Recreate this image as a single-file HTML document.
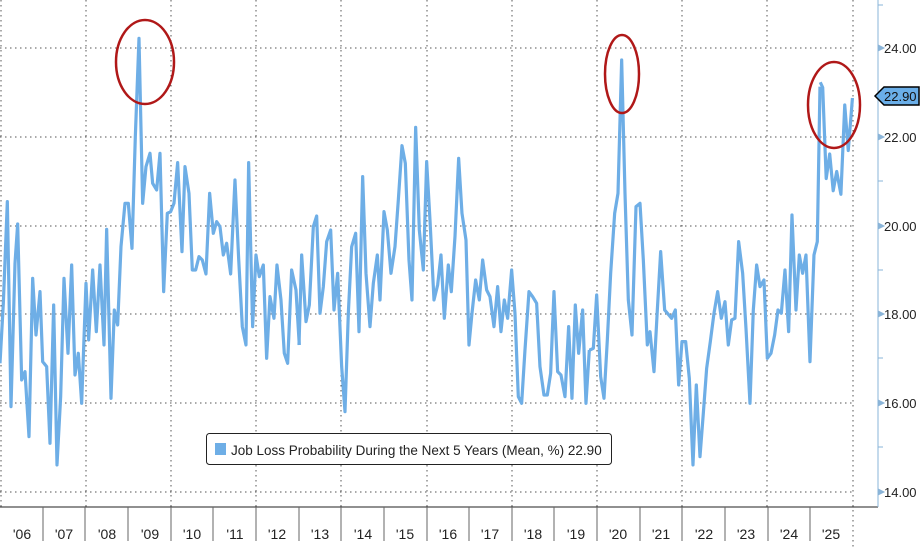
<!DOCTYPE html>
<html><head><meta charset="utf-8"><style>
html,body{margin:0;padding:0;background:#fff;}
svg{display:block;font-family:"Liberation Sans",sans-serif;}
</style></head><body>
<svg width="921" height="548" viewBox="0 0 921 548" xmlns="http://www.w3.org/2000/svg">
<rect width="921" height="548" fill="#fff"/>
<g stroke="#555" stroke-width="1" stroke-dasharray="1.5,3.5" fill="none">
<line x1="0" y1="48" x2="853" y2="48"/>
<line x1="0" y1="137" x2="853" y2="137"/>
<line x1="0" y1="226" x2="853" y2="226"/>
<line x1="0" y1="314" x2="853" y2="314"/>
<line x1="0" y1="403" x2="853" y2="403"/>
<line x1="0" y1="492" x2="853" y2="492"/>
<line x1="1" y1="0" x2="1" y2="507"/>
<line x1="86" y1="0" x2="86" y2="507"/>
<line x1="171" y1="0" x2="171" y2="507"/>
<line x1="256" y1="0" x2="256" y2="507"/>
<line x1="341" y1="0" x2="341" y2="507"/>
<line x1="427" y1="0" x2="427" y2="507"/>
<line x1="512" y1="0" x2="512" y2="507"/>
<line x1="597" y1="0" x2="597" y2="507"/>
<line x1="682" y1="0" x2="682" y2="507"/>
<line x1="767" y1="0" x2="767" y2="507"/>
<line x1="853" y1="0" x2="853" y2="548"/>
</g>
<line x1="0" y1="507" x2="878" y2="507" stroke="#222" stroke-width="1"/>
<line x1="878" y1="0" x2="878" y2="507" stroke="#8ab4d8" stroke-width="1"/>
<g stroke="#666" stroke-width="1">
<line x1="43" y1="507" x2="43" y2="541"/><line x1="85" y1="507" x2="85" y2="541"/><line x1="128" y1="507" x2="128" y2="541"/><line x1="171" y1="507" x2="171" y2="541"/><line x1="213" y1="507" x2="213" y2="541"/><line x1="256" y1="507" x2="256" y2="541"/><line x1="299" y1="507" x2="299" y2="541"/><line x1="341" y1="507" x2="341" y2="541"/><line x1="384" y1="507" x2="384" y2="541"/><line x1="427" y1="507" x2="427" y2="541"/><line x1="469" y1="507" x2="469" y2="541"/><line x1="512" y1="507" x2="512" y2="541"/><line x1="554" y1="507" x2="554" y2="541"/><line x1="597" y1="507" x2="597" y2="541"/><line x1="640" y1="507" x2="640" y2="541"/><line x1="682" y1="507" x2="682" y2="541"/><line x1="725" y1="507" x2="725" y2="541"/><line x1="768" y1="507" x2="768" y2="541"/><line x1="810" y1="507" x2="810" y2="541"/>
</g>
<g font-size="14" fill="#222" text-anchor="middle">
<text x="22" y="539">'06</text><text x="64" y="539">'07</text><text x="107" y="539">'08</text><text x="150" y="539">'09</text><text x="192" y="539">'10</text><text x="235" y="539">'11</text><text x="277" y="539">'12</text><text x="320" y="539">'13</text><text x="363" y="539">'14</text><text x="405" y="539">'15</text><text x="448" y="539">'16</text><text x="490" y="539">'17</text><text x="533" y="539">'18</text><text x="576" y="539">'19</text><text x="618" y="539">'20</text><text x="661" y="539">'21</text><text x="704" y="539">'22</text><text x="746" y="539">'23</text><text x="789" y="539">'24</text><text x="831" y="539">'25</text>
</g>
<g fill="#8ab4d8" stroke="#8ab4d8">
<path d="M878 45 L884 48 L878 51Z"/><path d="M878 134 L884 137 L878 140Z"/><path d="M878 223 L884 226 L878 229Z"/><path d="M878 311 L884 314 L878 317Z"/><path d="M878 400 L884 403 L878 406Z"/><path d="M878 489 L884 492 L878 495Z"/>
<line x1="878" y1="5" x2="883" y2="5"/><line x1="878" y1="181" x2="883" y2="181"/><line x1="878" y1="270" x2="883" y2="270"/><line x1="878" y1="358" x2="883" y2="358"/><line x1="878" y1="447" x2="883" y2="447"/>
</g>
<g font-size="13" fill="#222">
<text x="884" y="53">24.00</text><text x="884" y="142">22.00</text><text x="884" y="231">20.00</text><text x="884" y="319">18.00</text><text x="884" y="408">16.00</text><text x="884" y="497">14.00</text>
</g>
<path d="M875 96 L884 87 L919 87 L919 105 L884 105Z" fill="#6aaee8" stroke="#000" stroke-width="1.5"/>
<text x="884" y="101" font-size="13" fill="#111">22.90</text>
<g fill="none" stroke="#6eaee6" stroke-width="3.2" stroke-linejoin="round">
<polyline vector-effect="non-scaling-stroke" transform="translate(0,20) scale(0.3333)" points="0,1030 10,850 22,545 33,1160 45,730 53,612 65,1080 75,1055 87,1250 98,775 108,945 120,815 128,1025 140,1040 150,1270 161,855 171,1335 182,1130 192,775 204,1000 215,735 225,1065 235,1000 245,1150 258,790 266,960 278,750 289,935 300,735 312,975 320,628 333,1135 343,870 353,915 363,680 375,550 385,550 396,685 406,350 417,55 428,550 438,440 450,400 458,490 470,510 480,400 491,815 502,580 512,575 522,550 533,428 546,695 555,440 567,520 577,750 587,750 597,710 607,720 618,762 629,520 640,640 650,605 660,620 670,705 680,670 692,762 705,480 716,715 727,920 738,975 746,428 758,920 768,705 778,770 790,735 800,1015 810,830 822,895 831,735 843,840 853,1000 863,1030 875,750 888,810 898,975"/>
<polyline vector-effect="non-scaling-stroke" transform="translate(290,100) scale(0.3333)" points="27,735 35,465 48,665 58,615 70,380 80,348 90,640 100,560 110,425 122,390 132,630 143,520 155,800 165,935 175,640 185,440 197,400 207,695 218,230 228,520 240,680 250,550 262,465 270,600 282,335 292,390 303,520 315,440 325,300 336,137 346,190 357,480 366,600 377,82 388,390 400,510 410,185 420,360 432,600 443,555 453,465 463,655 475,495 484,575 495,410 506,175 516,340 528,420 537,735 546,640 557,540 568,600 578,480 590,570 600,590 612,680 623,560 633,695 643,600 653,655 665,510 675,640 685,890 695,910 705,750 717,575 728,590 740,610 750,800 762,885 772,885 782,820 792,575 803,815 813,825 825,890 836,680 846,895 856,615 866,760 878,630 888,910 898,750"/>
<polyline vector-effect="non-scaling-stroke" transform="translate(570,20) scale(0.3333)" points="57,990 60,990 70,985 80,825 92,1070 102,1135 112,960 122,760 134,580 144,520 155,120 165,520 175,840 186,945 198,560 210,550 220,720 232,975 240,935 252,1055 262,870 272,695 284,870 305,895 316,870 326,1095 336,965 347,965 358,1075 369,1335 379,1095 390,1310 400,1180 410,1045 421,965 432,880 443,815 454,895 465,845 475,975 485,900 495,895 506,665 518,760 528,925 540,1150 550,870 560,735 570,800 582,780 592,1015 603,1000 614,945 624,870 634,880 645,750 656,935 666,585 678,870 688,705 698,760 708,705 720,1025 732,705 742,665 750,200"/>
<polyline vector-effect="non-scaling-stroke" transform="translate(780,0) scale(0.35)" points="115,235 122,250 132,510 142,440 152,545 162,490 174,555 185,300 195,430 207,280"/>
</g>
<g fill="none" stroke="#b01818" stroke-width="2.5">
<ellipse cx="145" cy="62" rx="29" ry="42"/>
<ellipse cx="622" cy="74" rx="17" ry="39"/>
<ellipse cx="834" cy="105" rx="26" ry="43"/>
</g>
<rect x="206.5" y="433.5" width="405" height="31" rx="3" fill="#fff" stroke="#222" stroke-width="1"/>
<rect x="215" y="443" width="11" height="12" fill="#6eaee6"/>
<text x="231" y="455" font-size="13.5" fill="#222">Job Loss Probability During the Next 5 Years (Mean, %) 22.90</text>
</svg>
</body></html>
